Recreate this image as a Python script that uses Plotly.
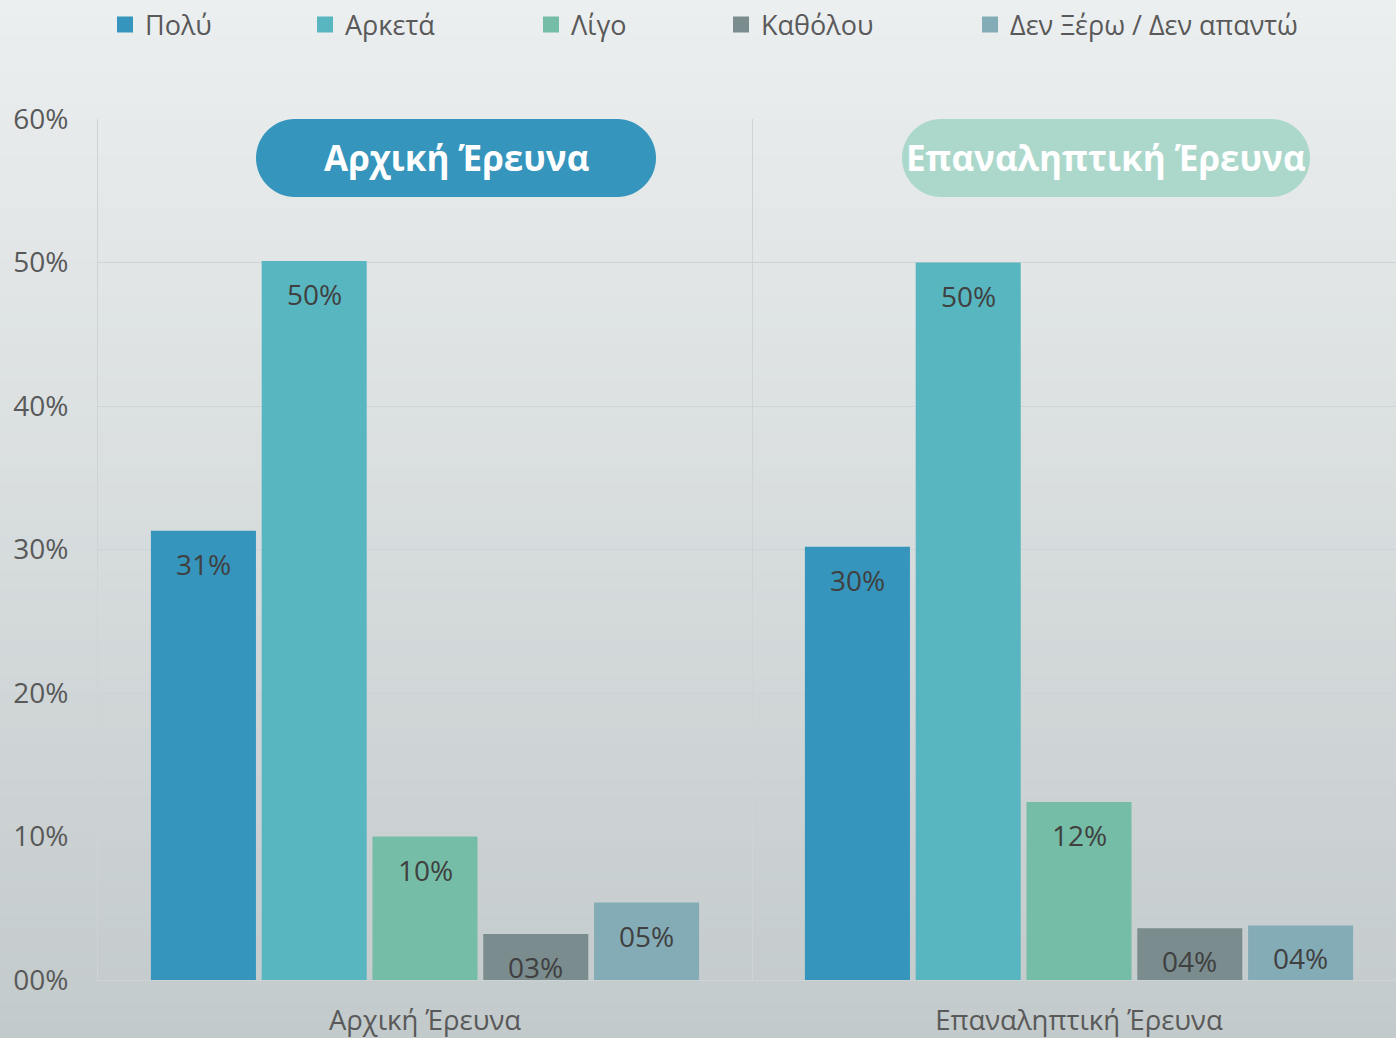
import plotly.graph_objects as go

categories = ["Αρχική Έρευνα", "Επαναληπτική Έρευνα"]
series_names = ["Πολύ", "Αρκετά", "Λίγο", "Καθόλου", "Δεν Ξέρω / Δεν απαντώ"]
series_colors = ["#3595bc", "#58b6c0", "#75bda7", "#7a8c8e", "#84acb6"]
values = [
    [31.3, 30.2],
    [50.1, 50.0],
    [10.0, 12.4],
    [3.2, 3.6],
    [5.4, 3.8],
]
labels = [
    ["31%", "30%"],
    ["50%", "50%"],
    ["10%", "12%"],
    ["03%", "04%"],
    ["05%", "04%"],
]
ytick_vals = [0, 10, 20, 30, 40, 50, 60]
ytick_text = ["00%", "10%", "20%", "30%", "40%", "50%", "60%"]
pill_titles = ["Αρχική Έρευνα", "Επαναληπτική Έρευνα"]
pill_colors = ["#3595bc", "#acd8cc"]

W, H = 1396, 1038
ML, MT, MB = 98, 119, 58
plot_w = W - ML
plot_h = H - MT - MB
cat_px = 654.0
x_range = [-0.5, -0.5 + plot_w / cat_px]
bargap = 0.153
bargroupgap = 0.052
FONT = "Open Sans"
TXT = "#595959"

fig = go.Figure()
for i, name in enumerate(series_names):
    fig.add_trace(go.Bar(
        x=categories, y=values[i], name=name,
        marker=dict(color=series_colors[i], line=dict(width=0)),
        showlegend=False, hoverinfo="skip",
    ))

# legend entries (larger square symbols), one legend per entry for placement
legend_px = [127, 327, 553, 743, 992]
legends = {}
for i, name in enumerate(series_names):
    key = "legend" if i == 0 else f"legend{i+1}"
    fig.add_trace(go.Scatter(
        x=[None], y=[None], mode="markers", name=name,
        marker=dict(symbol="square", size=16, color=series_colors[i]),
        legend=key, showlegend=True,
    ))
    legends[key] = dict(
        xref="container", yref="container",
        x=(legend_px[i] - 22) / W, y=1 - 25 / H,
        xanchor="left", yanchor="middle",
        bgcolor="rgba(0,0,0,0)", borderwidth=0,
        font=dict(family=FONT, size=27, color=TXT),
        itemwidth=30, itemsizing="trace",
    )

# value labels near the top inside each bar
n = len(series_names)
slot = (1 - bargap) / n
for i in range(n):
    for c in range(len(categories)):
        xc = c - (1 - bargap) / 2 + (i + 0.5) * slot
        fig.add_annotation(
            x=xc, y=values[i][c], xref="x", yref="y",
            text=labels[i][c], showarrow=False, yshift=-33,
            xanchor="center", yanchor="middle",
            font=dict(family=FONT, size=28, color="#404040"),
        )

shapes = []
# background gradient
top = (H - MB) / plot_h
bot = -MB / plot_h
N = 60
c_top = (236, 239, 240)
c_bot = (195, 202, 203)
for k in range(N):
    t = (k + 0.5) / N
    col = tuple(round(c_top[j] + (c_bot[j] - c_top[j]) * t) for j in range(3))
    y1 = top - (top - bot) * k / N
    y0 = top - (top - bot) * (k + 1) / N - 0.002
    shapes.append(dict(type="rect", xref="paper", yref="paper",
                       x0=-ML / plot_w - 0.01, x1=1.01, y0=y0, y1=y1,
                       line=dict(width=0), fillcolor="rgb(%d,%d,%d)" % col,
                       layer="below"))

# pills
def pill_path(half_w, r):
    a = half_w - r
    k = 0.5523 * r
    return (f"M {-a},{r} L {a},{r} "
            f"C {a+k},{r} {a+r},{k} {a+r},0 "
            f"C {a+r},{-k} {a+k},{-r} {a},{-r} "
            f"L {-a},{-r} "
            f"C {-a-k},{-r} {-a-r},{-k} {-a-r},0 "
            f"C {-a-r},{k} {-a-k},{r} {-a},{r} Z")

pill_cx = [456, 1106]
pill_hw = [200, 204]
pill_cy = 158
for p in range(2):
    xa = (pill_cx[p] - ML) / plot_w
    ya = (H - MB - pill_cy) / plot_h
    shapes.append(dict(type="path", xref="paper", yref="paper",
                       xsizemode="pixel", ysizemode="pixel",
                       xanchor=xa, yanchor=ya,
                       path=pill_path(pill_hw[p], 39),
                       fillcolor=pill_colors[p], line=dict(width=0),
                       layer="above"))
    fig.add_annotation(x=xa, y=ya, xref="paper", yref="paper",
                       xanchor="center", yanchor="middle",
                       text=f"<b>{pill_titles[p]}</b>", showarrow=False,
                       font=dict(family=FONT, size=35, color="white"))

fig.update_layout(
    width=W, height=H,
    margin=dict(l=ML, r=0, t=MT, b=MB, autoexpand=False),
    paper_bgcolor="#dfe3e4", plot_bgcolor="rgba(0,0,0,0)",
    barmode="group", bargap=bargap, bargroupgap=bargroupgap,
    shapes=shapes,
    font=dict(family=FONT, color=TXT),
    **legends,
)
fig.update_xaxes(
    range=x_range, tickson="boundaries", showgrid=True,
    gridcolor="#ced3d5", gridwidth=1, ticks="",
    showline=True, linecolor="#ced3d5", linewidth=1,
    tickfont=dict(family=FONT, size=27.5, color=TXT),
    ticklabelstandoff=16, automargin=False,
)
fig.update_yaxes(
    range=[0, 60], tickvals=ytick_vals, ticktext=ytick_text,
    showgrid=True, gridcolor="#ced3d5", gridwidth=1,
    showline=True, linecolor="#ced3d5", linewidth=1,
    zeroline=False, ticks="",
    tickfont=dict(family=FONT, size=28, color=TXT),
    ticklabelstandoff=23, automargin=False,
)

fig.write_html("out.html",
               config={"displayModeBar": False},
               post_script="document.body.style.margin='0';document.body.style.overflow='hidden';")
